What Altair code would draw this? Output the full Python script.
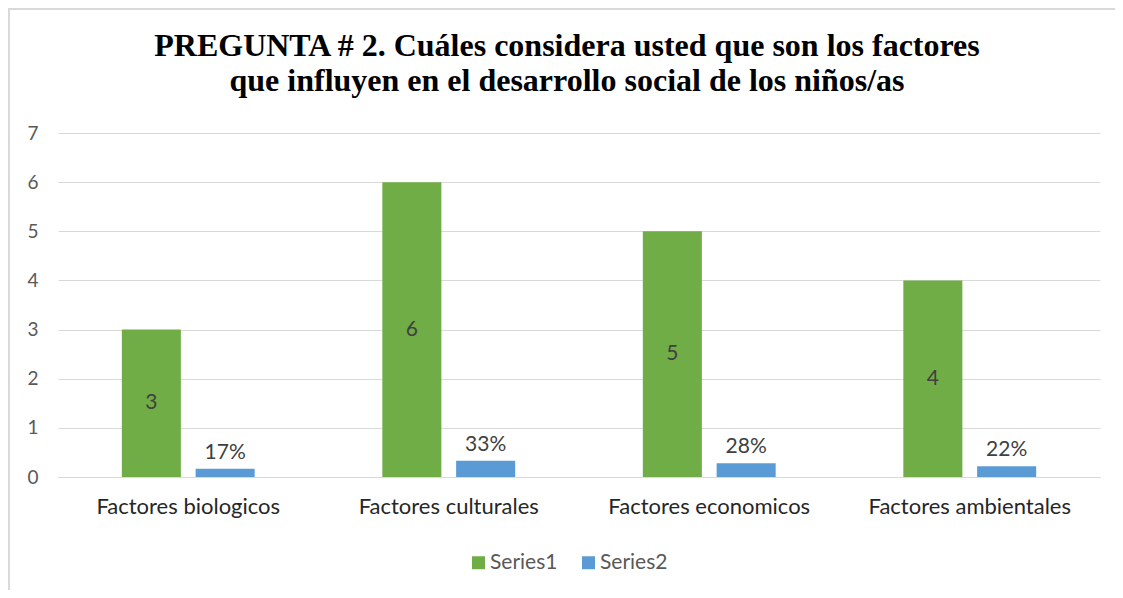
import altair as alt
import pandas as pd

categories = ["Factores biologicos", "Factores culturales", "Factores economicos", "Factores ambientales"]
series_names = ["Series1", "Series2"]
series1 = [3, 6, 5, 4]
series2 = [0.17, 0.33, 0.28, 0.22]
colors = ["#70AD47", "#5B9BD5"]
title_lines = ["PREGUNTA # 2. Cuáles considera usted que son los factores",
               "que influyen en el desarrollo social de los niños/as"]

rows = []
for c, v in zip(categories, series1):
    rows.append({"cat": c, "series": "Series1", "value": v})
for c, v in zip(categories, series2):
    rows.append({"cat": c, "series": "Series2", "value": v})
df = pd.DataFrame(rows)

FONT = "Lato"
W, H = 1042, 344

x_enc = alt.X("cat:N", sort=categories, title=None,
              scale=alt.Scale(paddingInner=0.49, paddingOuter=0.245),
              axis=alt.Axis(labelAngle=0, labelFont=FONT, labelFontSize=22,
                            labelColor="#262626", labelPadding=19, ticks=False,
                            labelLimit=400,
                            domainColor="#D9D9D9", domainWidth=1, grid=False))
xo_enc = alt.XOffset("series:N", sort=series_names, scale=alt.Scale(paddingInner=0.2))
y_scale = alt.Scale(domain=[0, 7])

base = alt.Chart(df)

bars = base.mark_bar().encode(
    x=x_enc,
    xOffset=xo_enc,
    y=alt.Y("value:Q", title=None, scale=y_scale,
            axis=alt.Axis(values=list(range(0, 8)), labelFont=FONT, labelFontSize=19,
                          labelColor="#595959", labelPadding=20, ticks=False,
                          domain=False, gridColor="#D9D9D9", gridWidth=1)),
    color=alt.Color("series:N", sort=series_names,
                    scale=alt.Scale(domain=series_names, range=colors),
                    legend=alt.Legend(title=None, orient="none", direction="horizontal",
                                      legendX=410, legendY=419, symbolType="square",
                                      symbolSize=169, symbolStrokeWidth=0,
                                      labelFont=FONT, labelFontSize=21,
                                      labelColor="#595959", columnPadding=20,
                                      labelOffset=1)),
)

lab1 = base.transform_filter(alt.datum.series == "Series1").transform_calculate(
    mid="datum.value / 2"
).mark_text(font=FONT, fontSize=21, color="#404040", baseline="middle").encode(
    x=alt.X("cat:N", sort=categories),
    xOffset=alt.XOffset("series:N", sort=series_names),
    y=alt.Y("mid:Q", scale=y_scale),
    text=alt.Text("value:Q", format="d"),
)

lab2 = base.transform_filter(alt.datum.series == "Series2").mark_text(
    font=FONT, fontSize=21, color="#404040", baseline="bottom", dy=-6
).encode(
    x=alt.X("cat:N", sort=categories),
    xOffset=alt.XOffset("series:N", sort=series_names),
    y=alt.Y("value:Q", scale=y_scale),
    text=alt.Text("value:Q", format=".0%"),
)

frame = alt.Chart(pd.DataFrame({"k": [0]})).mark_rect(
    fill=None, stroke="#D9D9D9", strokeWidth=2, clip=False
).encode(
    x=alt.value(-49), x2=alt.value(1080), y=alt.value(-124), y2=alt.value(600)
)

chart = alt.layer(frame, bars, lab1, lab2).properties(
    width=W, height=H,
    autosize=alt.AutoSizeParams(type="none"),
    padding={"left": 50, "top": 125, "right": 15, "bottom": 113},
    title=alt.Title(title_lines, font="Liberation Serif", fontSize=32, fontWeight="bold",
                    color="#000000", anchor="middle", frame="group", offset=0,
                    lineHeight=35, dx=-12, dy=90),
).configure_view(stroke=None)

chart.save("out.html", embed_options={"renderer": "svg", "actions": False})
